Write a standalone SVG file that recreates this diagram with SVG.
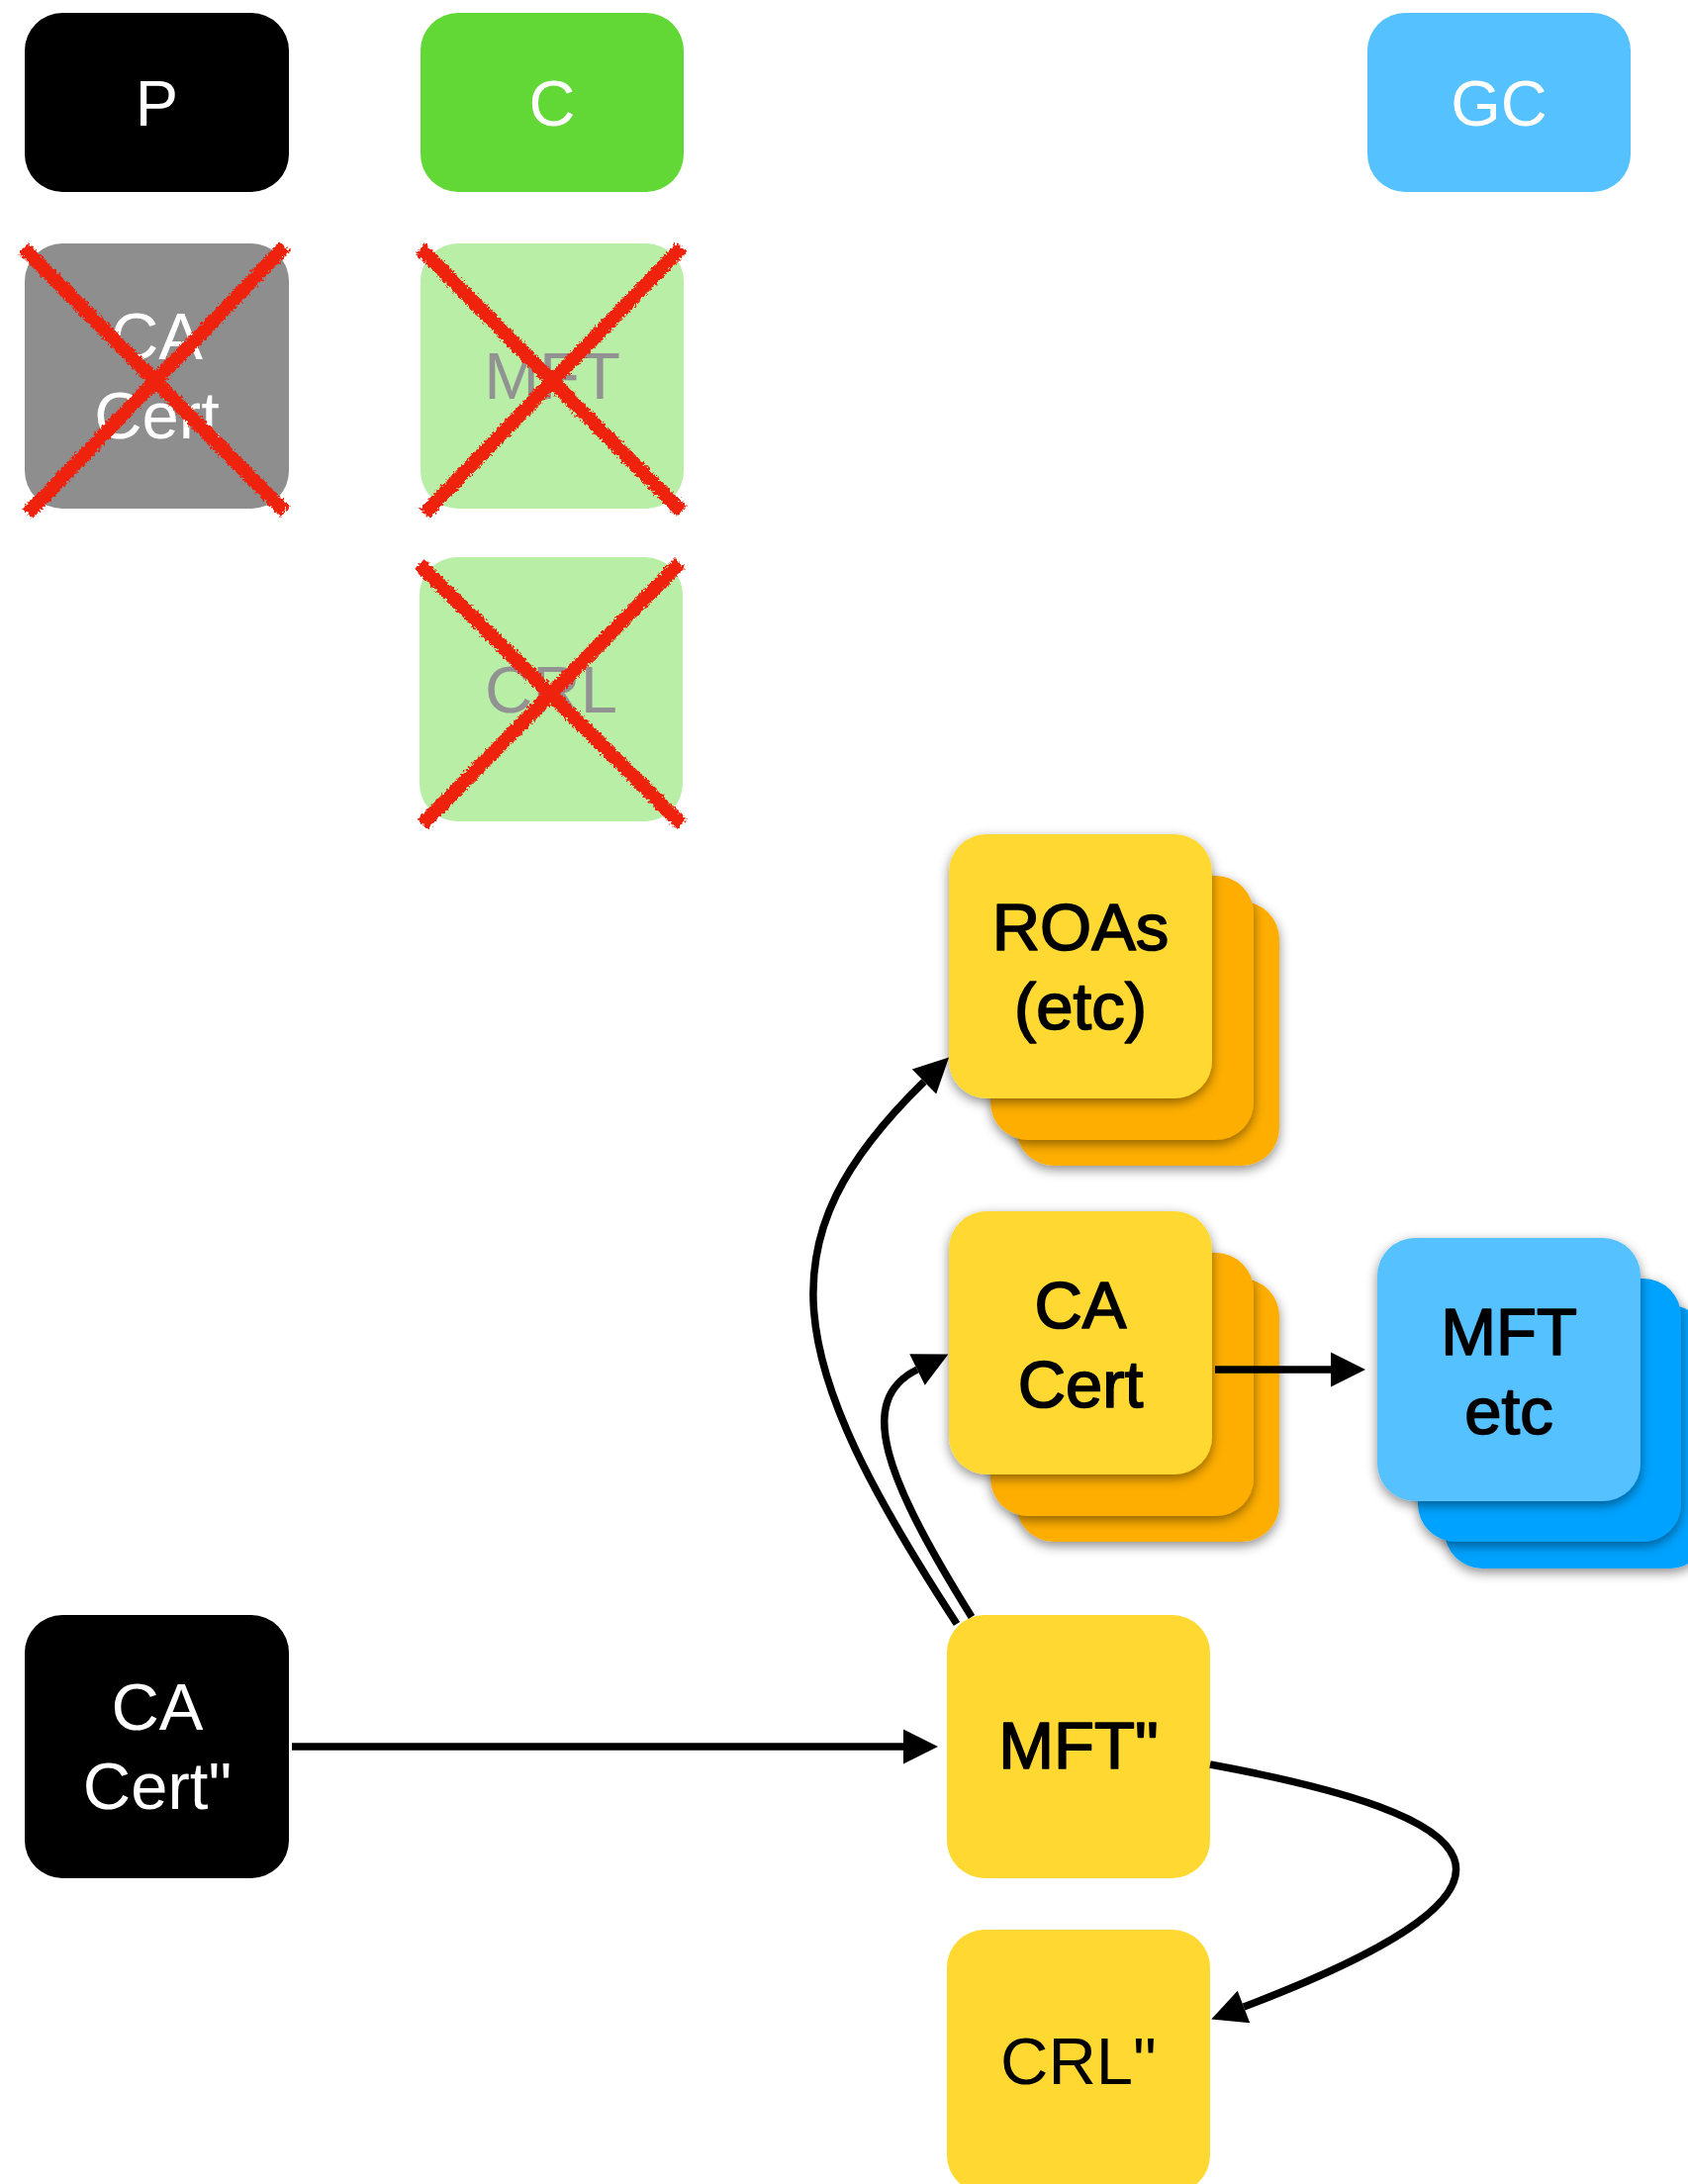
<svg xmlns="http://www.w3.org/2000/svg" width="1706" height="2207" viewBox="0 0 1706 2207">
  <defs>
    <style>
      text { font-family: "Liberation Sans", Arial, Helvetica, sans-serif; text-anchor: middle; }
      .lbl { font-size: 65px; fill: #ffffff; }
      .big { font-size: 67px; }
      .white { fill: #ffffff; }
      .grey { fill: #929292; }
      .ink { fill: #000000; }
      .med { stroke: #000000; stroke-width: 1.7px; stroke-linejoin: round; }
      .edge { fill: none; stroke: #000000; stroke-width: 7.5px; }
      .cross { stroke: #ee220c; stroke-width: 14px; stroke-linecap: butt; }
      .card { filter: url(#lift); }
    </style>
    <!-- ragged crayon stroke for the crossed-out boxes -->
    <filter id="rough" filterUnits="userSpaceOnUse" x="0" y="200" width="760" height="680">
      <feTurbulence type="fractalNoise" baseFrequency="0.4" numOctaves="3" seed="7" result="noise"/>
      <feDisplacementMap in="SourceGraphic" in2="noise" scale="7" xChannelSelector="R" yChannelSelector="G"/>
    </filter>
    <!-- soft shadow under stacked cards -->
    <filter id="lift" x="-20%" y="-20%" width="140%" height="140%">
      <feDropShadow dx="0" dy="4" stdDeviation="6" flood-color="#000000" flood-opacity="0.45"/>
    </filter>
    <marker id="head" markerUnits="userSpaceOnUse" markerWidth="36" markerHeight="36" refX="0" refY="17.5" orient="auto" overflow="visible">
      <path d="M0,0 L35,17.5 L0,35 Z" fill="#000000"/>
    </marker>
  </defs>

  <rect x="0" y="0" width="1706" height="2207" fill="#ffffff"/>

  <!-- header row -->
  <g id="node-P">
    <rect x="25" y="13" width="267" height="181" rx="38" fill="#000000"/>
    <text class="lbl" x="158.5" y="127">P</text>
  </g>
  <g id="node-C">
    <rect x="425" y="13" width="266" height="181" rx="38" fill="#61d836"/>
    <text class="lbl" x="558" y="127">C</text>
  </g>
  <g id="node-GC">
    <rect x="1382" y="13" width="266" height="181" rx="38" fill="#56c1ff"/>
    <text class="lbl" x="1515" y="127">GC</text>
  </g>

  <!-- revoked objects -->
  <g id="node-old-ca-cert">
    <rect x="25" y="246" width="267" height="268" rx="38" fill="#8e8e8e"/>
    <text class="big white" x="158.5" y="363">CA</text>
    <text class="big white" x="158.5" y="443">Cert</text>
  </g>
  <g id="node-old-mft">
    <rect x="425" y="246" width="266" height="268" rx="38" fill="#b8eea6"/>
    <text class="big grey" x="558" y="403">MFT</text>
  </g>
  <g id="node-old-crl">
    <rect x="424" y="563" width="266" height="267" rx="38" fill="#b8eea6"/>
    <text class="big grey" x="557" y="720">CRL</text>
  </g>
  <g id="crosses" class="cross" filter="url(#rough)">
    <line x1="24" y1="251" x2="288" y2="517"/>
    <line x1="288" y1="249" x2="28" y2="519"/>
    <line x1="425" y1="251" x2="689" y2="517"/>
    <line x1="689" y1="250" x2="429" y2="519"/>
    <line x1="424" y1="570" x2="689" y2="833"/>
    <line x1="687" y1="569" x2="427" y2="833"/>
  </g>

  <!-- stacked children -->
  <g id="node-roas">
    <rect class="card" x="1027" y="911" width="266" height="267" rx="38" fill="#feae00"/>
    <rect class="card" x="1001" y="885" width="266" height="267" rx="38" fill="#feae00"/>
    <rect class="card" x="959" y="843" width="266" height="267" rx="38" fill="#ffd932"/>
    <text class="big ink med" x="1092" y="960">ROAs</text>
    <text class="big ink med" x="1092" y="1040">(etc)</text>
  </g>
  <g id="node-ca-cert">
    <rect class="card" x="1027" y="1292" width="266" height="266" rx="38" fill="#feae00"/>
    <rect class="card" x="1001" y="1266" width="266" height="266" rx="38" fill="#feae00"/>
    <rect class="card" x="959" y="1224" width="266" height="266" rx="38" fill="#ffd932"/>
    <text class="big ink med" x="1092" y="1342">CA</text>
    <text class="big ink med" x="1092" y="1422">Cert</text>
  </g>
  <g id="node-mft-etc">
    <rect class="card" x="1460" y="1319" width="266" height="266" rx="38" fill="#00a2ff"/>
    <rect class="card" x="1433" y="1292" width="266" height="266" rx="38" fill="#00a2ff"/>
    <rect class="card" x="1392" y="1251" width="266" height="266" rx="38" fill="#56c1ff"/>
    <text class="big ink med" x="1525" y="1369">MFT</text>
    <text class="big ink med" x="1525" y="1449">etc</text>
  </g>

  <!-- new issuance -->
  <g id="node-new-ca-cert">
    <rect x="25" y="1632" width="267" height="266" rx="38" fill="#000000"/>
    <text class="big white" x="159" y="1748">CA</text>
    <text class="big white" x="159" y="1828">Cert"</text>
  </g>
  <g id="node-new-mft">
    <rect x="957" y="1632" width="266" height="266" rx="38" fill="#ffd932"/>
    <text class="big ink med" x="1090" y="1787">MFT"</text>
  </g>
  <g id="node-new-crl">
    <rect x="957" y="1950" width="266" height="266" rx="38" fill="#ffd932"/>
    <text class="big ink" x="1090" y="2106">CRL"</text>
  </g>

  <g id="connectors">
    <path class="edge" d="M295,1765 L913,1765" marker-end="url(#head)"/>
    <path class="edge" d="M1228,1384 L1345,1384" marker-end="url(#head)"/>
    <path class="edge" d="M967,1641 C790,1370 770,1253 934,1093" marker-end="url(#head)"/>
    <path class="edge" d="M982,1634 C895,1494 864,1415 927,1384" marker-end="url(#head)"/>
    <path class="edge" d="M1223,1783 C1504,1835 1588,1902 1257,2028" marker-end="url(#head)"/>
  </g>
</svg>
